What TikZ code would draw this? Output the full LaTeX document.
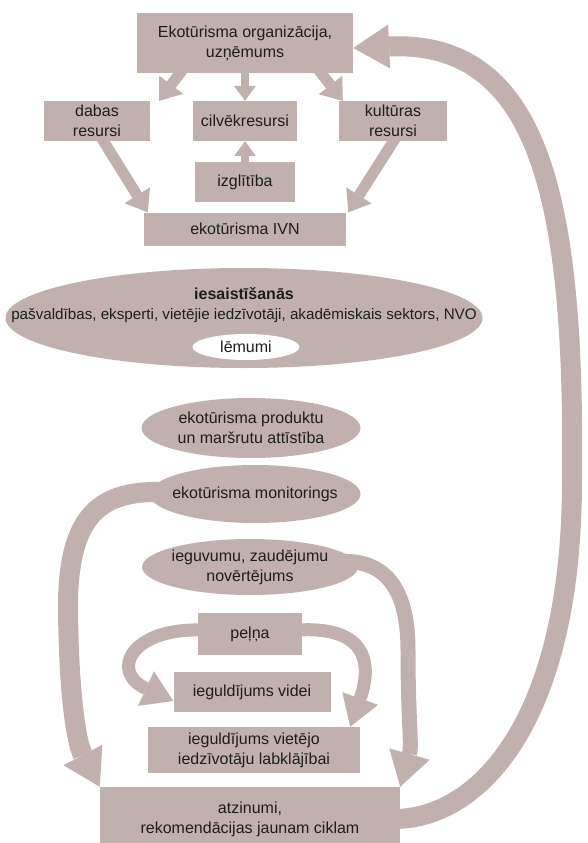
\documentclass[tikz,border=0pt]{standalone}
\usepackage{fontspec}
\setmainfont{Liberation Sans}
\usetikzlibrary{arrows.meta, shapes.geometric, backgrounds}
\definecolor{mauve}{RGB}{192,177,174}
\definecolor{inktext}{RGB}{30,30,30}

\begin{document}
\begin{tikzpicture}[
  x=1pt, y=-1pt,
  every node/.style={font=\fontsize{16pt}{20pt}\selectfont, text=inktext, align=center, inner sep=0pt},
  block/.style={rectangle, fill=mauve},
  oval/.style={ellipse, fill=mauve, inner sep=-10pt},
  smallarr/.style={draw=mauve, line width=8pt, -{Triangle[length=15pt, width=22pt, line width=0pt]}},
  diagarr/.style={draw=mauve, line width=11pt, -{Triangle[length=20pt, width=30pt, line width=0pt]}},
  looparr/.style={draw=mauve, line width=13pt, -{Triangle[length=30pt, width=38pt, line width=0pt]}},
  sidearr/.style={draw=mauve, line width=15pt, -{Triangle[length=34pt, width=42pt, line width=0pt]}},
  bigarr/.style={draw=mauve, line width=20pt, -{Triangle[length=36pt, width=44pt, line width=0pt]}},
]
\useasboundingbox (0,0) rectangle (587,843);

% Organisation and resources
\node[block, minimum width=216pt, minimum height=60pt] (org) at (245,43) {Ekotūrisma organizācija,\\uzņēmums};
\node[block, minimum width=106pt, minimum height=40pt] (dabas) at (97,121) {dabas\\resursi};
\node[block, minimum width=104pt, minimum height=40pt] (cilv) at (245,121) {cilvēkresursi};
\node[block, minimum width=108pt, minimum height=40pt] (kult) at (393,121) {kultūras\\resursi};
\node[block, minimum width=100pt, minimum height=40pt] (izgl) at (245,182) {izglītība};
\node[block, minimum width=202pt, minimum height=33pt] (ivn) at (245,229) {ekotūrisma IVN};

% Involvement
\node[oval, minimum width=477pt, minimum height=100pt] (eng) at (244,318) {};
\node (engtxt) at (244,305) {\textbf{iesaistīšanās}\\\fontsize{15.2pt}{20pt}\selectfont pašvaldības, eksperti, vietējie iedzīvotāji, akadēmiskais sektors, NVO};
\node[ellipse, fill=white, minimum width=107pt, minimum height=26pt] (lem) at (246,347) {lēmumi};

% Process stages
\node[oval, minimum width=219pt, minimum height=60pt] (prod) at (251,428) {ekotūrisma produktu\\un maršrutu attīstība};
\node[oval, minimum width=211pt, minimum height=58pt] (mon) at (255,494) {ekotūrisma monitorings};
\node[oval, minimum width=216pt, minimum height=56pt] (ieg) at (250,567) {ieguvumu, zaudējumu\\novērtējums};
\node[block, minimum width=104pt, minimum height=42pt] (pel) at (250,634) {peļņa};
\node[block, minimum width=157pt, minimum height=40pt] (videi) at (252,692) {ieguldījums videi};
\node[block, minimum width=212pt, minimum height=46pt] (viet) at (254,750) {ieguldījums vietējo\\iedzīvotāju labklājībai};
\node[block, minimum width=300pt, minimum height=64pt] (concl) at (250,819) {atzinumi,\\rekomendācijas jaunam ciklam};

% Bends of the long arrows
\coordinate (rbend) at (572,480);
\coordinate (lbend) at (68,600);
\coordinate (ibend) at (408,650);

% Arrows
\begin{scope}[on background layer]
  \draw[diagarr] ([xshift=-62pt,yshift=4pt]org.south) -- ([xshift=9pt]dabas.north east);
  \draw[smallarr] ([yshift=4pt]org.south) -- (cilv.north);
  \draw[diagarr] ([xshift=73pt,yshift=4pt]org.south) -- ([xshift=4pt]kult.north west);
  \draw[smallarr] ([yshift=-4pt]izgl.north) -- (cilv.south);
  \draw[diagarr] ([xshift=4pt,yshift=4pt]dabas.south) -- ([xshift=4pt]ivn.north west);
  \draw[diagarr] ([xshift=3pt,yshift=4pt]kult.south) -- ([xshift=2pt]ivn.north east);
  \draw[bigarr] ([xshift=-5pt]concl.east) .. controls (480,818) and (572,720) .. (rbend)
    .. controls (575,200) and (540,40) .. ([yshift=-5pt]org.east);
  \draw[bigarr] ([xshift=15pt,yshift=2pt]mon.west) .. controls (100,490) and (70,515) .. (lbend)
    .. controls (68,680) and (75,740) .. (concl.north west);
  \draw[sidearr] ([xshift=-25pt,yshift=5pt]ieg.east) .. controls (390,556) and (408,595) .. (ibend)
    .. controls (408,720) and (412,745) .. (concl.north east);
  \draw[looparr] ([xshift=4pt,yshift=4pt]pel.west) .. controls (130,628) and (110,672) .. ([yshift=-9pt]videi.west);
  \draw[looparr] ([xshift=-4pt,yshift=4pt]pel.east) .. controls (368,626) and (372,665) .. ([xshift=-10pt]viet.north east);
\end{scope}

\end{tikzpicture}
\end{document}
